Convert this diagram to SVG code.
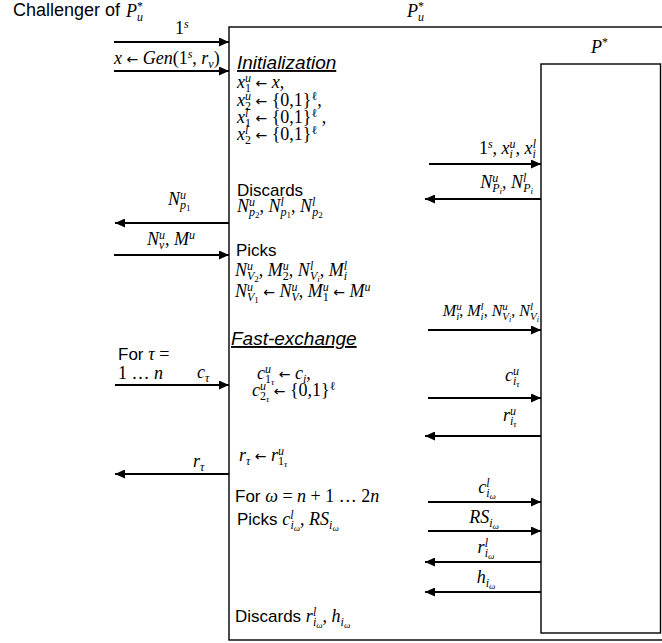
<svg xmlns="http://www.w3.org/2000/svg" width="662" height="643" viewBox="0 0 662 643">
<defs>
<style>
text{fill:#000}
.sf{font-family:"Liberation Sans",Arial,sans-serif;font-size:17px}
.big{font-size:18px}
.hd{font-family:"Liberation Sans",Arial,sans-serif;font-size:19px;font-style:italic;text-decoration:underline}
.m{font-family:"Liberation Serif","Times New Roman",serif;font-size:18px;font-style:italic}
.r{font-style:normal}
.ar{font-family:"DejaVu Sans",sans-serif;font-style:normal;font-size:14px}
.s{font-size:12px}
.ss{font-size:9px}
.ln{stroke:#000;stroke-width:1.8;fill:none}
.box{fill:none;stroke:#000;stroke-width:1.4}
</style>
<marker id="ah" markerUnits="userSpaceOnUse" markerWidth="11" markerHeight="9" refX="10" refY="4.5" orient="auto">
<path d="M0,0 L10,4.5 L0,9 z" fill="#000"/>
</marker>
</defs>
<rect width="662" height="643" fill="#fff"/>

<g id="challenger">
<text class="sf big" x="13" y="16">Challenger of</text>
<text class="m" x="126" y="17">P<tspan class="s" dy="4">u</tspan><tspan class="s r" dx="-6" dy="-11">*</tspan></text>
</g>

<g id="node-pu">
<rect class="box" x="229" y="27" width="460" height="613"/>
<text class="m" x="407" y="17">P<tspan class="s" dy="4">u</tspan><tspan class="s r" dx="-6" dy="-11">*</tspan></text>
<text class="hd" x="237" y="69">Initialization</text>
<text class="m" x="237" y="88">x<tspan class="s" dy="-6">u</tspan><tspan class="s r" dx="-6" dy="10">1</tspan><tspan class="ar" dy="-4"> ← </tspan>x<tspan class="r">,</tspan></text>
<text class="m" x="237" y="106">x<tspan class="s" dy="-6">u</tspan><tspan class="s r" dx="-6" dy="10">2</tspan><tspan class="ar" dy="-4"> ← </tspan><tspan class="r">{0,1}</tspan><tspan class="s r" dy="-6">ℓ</tspan><tspan class="r" dy="6">,</tspan></text>
<text class="m" x="237" y="123">x<tspan class="s" dy="-6">l</tspan><tspan class="s r" dx="-3.3" dy="10">1</tspan><tspan class="ar" dy="-4"> ← </tspan><tspan class="r">{0,1}</tspan><tspan class="s r" dy="-6">ℓ</tspan><tspan class="r" dy="6"> ,</tspan></text>
<text class="m" x="237" y="140">x<tspan class="s" dy="-6">l</tspan><tspan class="s r" dx="-3.3" dy="10">2</tspan><tspan class="ar" dy="-4"> ← </tspan><tspan class="r">{0,1}</tspan><tspan class="s r" dy="-6">ℓ</tspan></text>

<text class="sf" x="237" y="196">Discards</text>
<text class="m" x="237" y="212">N<tspan class="s" dy="-6">u</tspan><tspan class="s" dx="-6" dy="10">p</tspan><tspan class="ss r" dy="2">2</tspan><tspan class="r" dy="-6">, </tspan>N<tspan class="s" dy="-6">l</tspan><tspan class="s" dx="-3.3" dy="10">p</tspan><tspan class="ss r" dy="2">1</tspan><tspan class="r" dy="-6">, </tspan>N<tspan class="s" dy="-6">l</tspan><tspan class="s" dx="-3.3" dy="10">p</tspan><tspan class="ss r" dy="2">2</tspan></text>

<text class="sf" x="236" y="256">Picks</text>
<text class="m" x="235" y="276">N<tspan class="s" dy="-6">u</tspan><tspan class="s" dx="-6" dy="10">V</tspan><tspan class="ss r" dy="2">2</tspan><tspan class="r" dy="-6">, </tspan>M<tspan class="s" dy="-6">u</tspan><tspan class="s r" dx="-6" dy="10">2</tspan><tspan class="r" dy="-4">, </tspan>N<tspan class="s" dy="-6">l</tspan><tspan class="s" dx="-3.3" dy="10">V</tspan><tspan class="ss" dy="2">i</tspan><tspan class="r" dy="-6">, </tspan>M<tspan class="s" dy="-6">l</tspan><tspan class="s" dx="-3.3" dy="10">i</tspan></text>
<text class="m" x="235" y="297">N<tspan class="s" dy="-6">u</tspan><tspan class="s" dx="-6" dy="10">V</tspan><tspan class="ss r" dy="2">1</tspan><tspan class="ar" dy="-6"> ← </tspan>N<tspan class="s" dy="-6">u</tspan><tspan class="s" dx="-6" dy="10">V</tspan><tspan class="r" dy="-4">, </tspan>M<tspan class="s" dy="-6">u</tspan><tspan class="s r" dx="-6" dy="10">1</tspan><tspan class="ar" dy="-4"> ← </tspan>M<tspan class="s" dy="-6">u</tspan></text>

<text class="hd" x="231" y="345">Fast-exchange</text>
<text class="m" x="257" y="379">c<tspan class="s" dy="-6">u</tspan><tspan class="s r" dx="-6" dy="10">1</tspan><tspan class="ss" dy="2">τ</tspan><tspan class="ar" dy="-6"> ← </tspan>c<tspan class="s" dy="4">i</tspan><tspan class="r" dy="-4">,</tspan></text>
<text class="m" x="252" y="396">c<tspan class="s" dy="-6">u</tspan><tspan class="s r" dx="-6" dy="10">2</tspan><tspan class="ss" dy="2">τ</tspan><tspan class="ar" dy="-6"> ← </tspan><tspan class="r">{0,1}</tspan><tspan class="s r" dy="-6">ℓ</tspan></text>
<text class="m" x="239" y="461">r<tspan class="s" dy="4">τ</tspan><tspan class="ar" dy="-4"> ← </tspan>r<tspan class="s" dy="-6">u</tspan><tspan class="s r" dx="-6" dy="10">1</tspan><tspan class="ss" dy="2">τ</tspan></text>

<text class="sf" x="235" y="502">For <tspan class="m">ω<tspan class="r"> = </tspan>n<tspan class="r"> + 1 … 2</tspan>n</tspan></text>
<text class="sf" x="237" y="525">Picks <tspan class="m">c<tspan class="s" dy="-6">l</tspan><tspan class="s" dx="-3.3" dy="10">i</tspan><tspan class="ss" dy="2">ω</tspan><tspan class="r" dy="-6">, </tspan>RS<tspan class="s" dy="4">i</tspan><tspan class="ss" dy="2">ω</tspan></tspan></text>
<text class="sf" x="235" y="622">Discards <tspan class="m">r<tspan class="s" dy="-6">l</tspan><tspan class="s" dx="-3.3" dy="10">i</tspan><tspan class="ss" dy="2">ω</tspan><tspan class="r" dy="-6">, </tspan>h<tspan class="s" dy="4">i</tspan><tspan class="ss" dy="2">ω</tspan></tspan></text>
</g>

<g id="node-pstar">
<rect class="box" x="541" y="64" width="119.5" height="569"/>
<text class="m" x="591" y="53">P<tspan class="s r" dy="-7">*</tspan></text>
</g>

<g id="connectors">
<line class="ln" x1="114" y1="42" x2="229" y2="42" marker-end="url(#ah)"/>
<line class="ln" x1="114" y1="71" x2="229" y2="71" marker-end="url(#ah)"/>
<line class="ln" x1="229" y1="223" x2="115" y2="223" marker-end="url(#ah)"/>
<line class="ln" x1="114" y1="255" x2="229" y2="255" marker-end="url(#ah)"/>
<line class="ln" x1="115" y1="385" x2="229" y2="385" marker-end="url(#ah)"/>
<line class="ln" x1="229" y1="474" x2="115" y2="474" marker-end="url(#ah)"/>
<line class="ln" x1="429" y1="164" x2="541" y2="164" marker-end="url(#ah)"/>
<line class="ln" x1="541" y1="199" x2="425" y2="199" marker-end="url(#ah)"/>
<line class="ln" x1="428" y1="330" x2="541" y2="330" marker-end="url(#ah)"/>
<line class="ln" x1="428" y1="398" x2="541" y2="398" marker-end="url(#ah)"/>
<line class="ln" x1="541" y1="436" x2="425" y2="436" marker-end="url(#ah)"/>
<line class="ln" x1="428" y1="502" x2="541" y2="502" marker-end="url(#ah)"/>
<line class="ln" x1="428" y1="531" x2="541" y2="531" marker-end="url(#ah)"/>
<line class="ln" x1="541" y1="562" x2="425" y2="562" marker-end="url(#ah)"/>
<line class="ln" x1="541" y1="592" x2="425" y2="592" marker-end="url(#ah)"/>
</g>

<g id="connector-labels">
<text class="m" x="175" y="34"><tspan class="r">1</tspan><tspan class="s" dy="-6">s</tspan></text>
<text class="m" x="114" y="64">x<tspan class="ar"> ← </tspan>Gen<tspan class="r">(1</tspan><tspan class="s" dy="-6">s</tspan><tspan class="r" dy="6">, </tspan>r<tspan class="s" dy="4">v</tspan><tspan class="r" dy="-4">)</tspan></text>
<text class="m" x="168" y="205">N<tspan class="s" dy="-6">u</tspan><tspan class="s" dx="-6" dy="10">p</tspan><tspan class="ss r" dy="2">1</tspan></text>
<text class="m" x="147" y="245">N<tspan class="s" dy="4">v</tspan><tspan class="s" dx="-5.3" dy="-10">u</tspan><tspan class="r" dy="6">, </tspan>M<tspan class="s" dy="-6">u</tspan></text>
<text class="sf" x="118" y="360">For <tspan class="m">τ<tspan class="r"> =</tspan></tspan></text>
<text class="m" x="118" y="379"><tspan class="r">1 … </tspan>n</text>
<text class="m" x="197" y="378">c<tspan class="s" dy="4">τ</tspan></text>
<text class="m" x="193" y="467">r<tspan class="s" dy="4">τ</tspan></text>

<text class="m" x="536" y="154" text-anchor="end"><tspan class="r">1</tspan><tspan class="s" dy="-6">s</tspan><tspan class="r" dy="6">, </tspan>x<tspan class="s" dy="4">i</tspan><tspan class="s" dx="-3.3" dy="-10">u</tspan><tspan class="r" dy="6">, </tspan>x<tspan class="s" dy="4">i</tspan><tspan class="s" dx="-3.3" dy="-10">l</tspan></text>
<text class="m" x="533" y="188" text-anchor="end">N<tspan class="s" dy="-6">u</tspan><tspan class="s" dx="-6" dy="10">P</tspan><tspan class="ss" dy="2">i</tspan><tspan class="r" dy="-6">, </tspan>N<tspan class="s" dy="-6">l</tspan><tspan class="s" dx="-3.3" dy="10">P</tspan><tspan class="ss" dy="2">i</tspan></text>
<text class="m" x="539" y="316" text-anchor="end" style="font-size:16px">M<tspan class="s" dy="-6" style="font-size:11px">u</tspan><tspan class="s" dx="-5.5" dy="10" style="font-size:11px">i</tspan><tspan class="r" dy="-4">, </tspan>M<tspan class="s" dy="-6" style="font-size:11px">l</tspan><tspan class="s" dx="-3" dy="10" style="font-size:11px">i</tspan><tspan class="r" dy="-4">, </tspan>N<tspan class="s" dy="-6" style="font-size:11px">u</tspan><tspan class="s" dx="-5.5" dy="10" style="font-size:11px">V</tspan><tspan class="ss" dy="2" style="font-size:8px">i</tspan><tspan class="r" dy="-6">, </tspan>N<tspan class="s" dy="-6" style="font-size:11px">l</tspan><tspan class="s" dx="-3" dy="10" style="font-size:11px">V</tspan><tspan class="ss" dy="2" style="font-size:8px">i</tspan></text>
<text class="m" x="505" y="381">c<tspan class="s" dy="-6">u</tspan><tspan class="s" dx="-6" dy="10">i</tspan><tspan class="ss" dy="2">τ</tspan></text>
<text class="m" x="503" y="421">r<tspan class="s" dy="-6">u</tspan><tspan class="s" dx="-6" dy="10">i</tspan><tspan class="ss" dy="2">τ</tspan></text>
<text class="m" x="487" y="493" text-anchor="middle">c<tspan class="s" dy="-6">l</tspan><tspan class="s" dx="-3.3" dy="10">i</tspan><tspan class="ss" dy="2">ω</tspan></text>
<text class="m" x="484" y="523" text-anchor="middle">RS<tspan class="s" dy="4">i</tspan><tspan class="ss" dy="2">ω</tspan></text>
<text class="m" x="486" y="553" text-anchor="middle">r<tspan class="s" dy="-6">l</tspan><tspan class="s" dx="-3.3" dy="10">i</tspan><tspan class="ss" dy="2">ω</tspan></text>
<text class="m" x="486" y="583" text-anchor="middle">h<tspan class="s" dy="4">i</tspan><tspan class="ss" dy="2">ω</tspan></text>
</g>
</svg>
